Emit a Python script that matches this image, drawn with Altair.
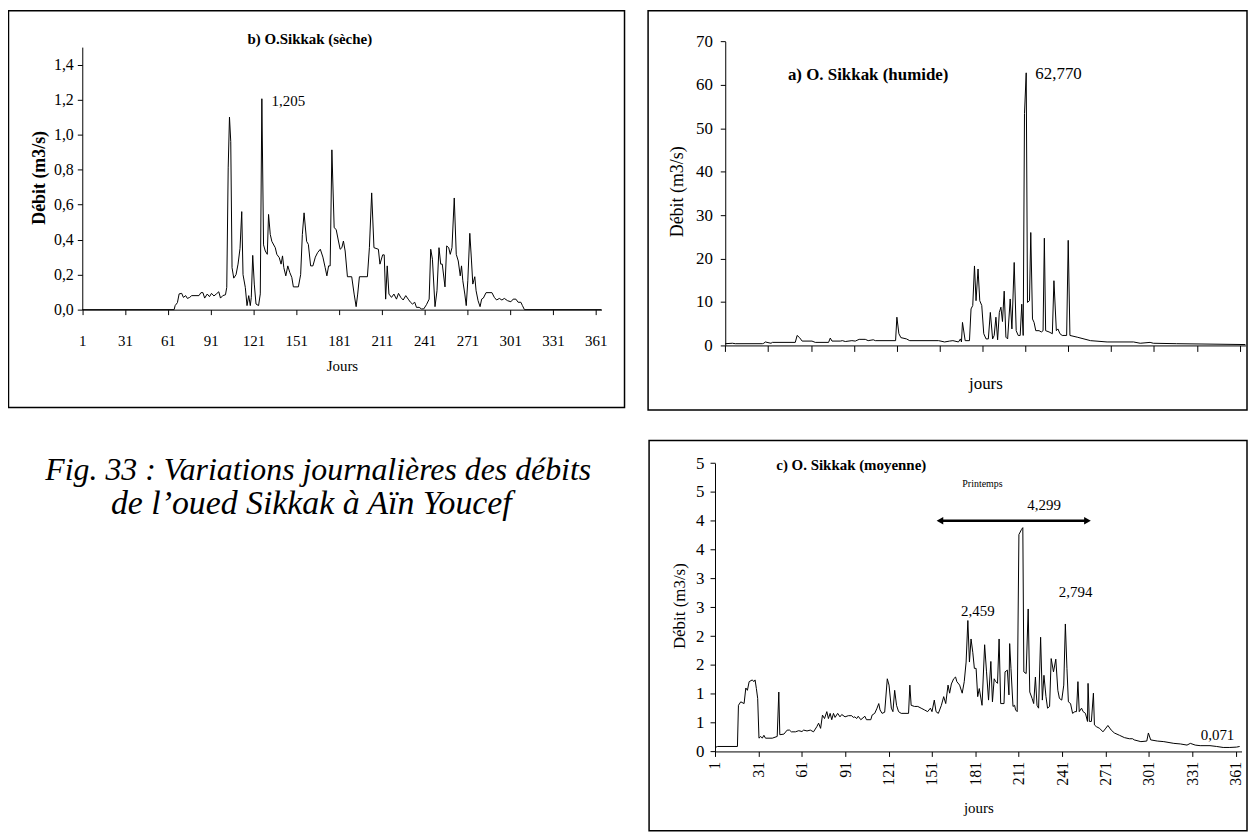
import altair as alt
import pandas as pd

FONT = "Liberation Serif"
W, H = 1247, 827

# ---------------- data ----------------
day_ticks = [1, 31, 61, 91, 121, 151, 181, 211, 241, 271, 301, 331, 361]
dry_ticks = [0, 0.2, 0.4, 0.6, 0.8, 1.0, 1.2, 1.4]
wet_ticks = [0, 10, 20, 30, 40, 50, 60, 70]
avg_ticks = [0, 0.5, 1, 1.5, 2, 2.5, 3, 3.5, 4, 4.5, 5]

# b) dry year : (day, discharge m3/s)
dry = [(1, 0), (65.4, 0), (66.1, 0.023), (67.7, 0.04), (68.9, 0.09), (70.7, 0.093), (71.9, 0.07),
       (73.5, 0.08), (74.7, 0.064), (76.3, 0.07), (77.7, 0.08), (82.8, 0.08), (84.2, 0.097),
       (85.6, 0.097), (86.8, 0.066), (88.6, 0.089), (90.2, 0.074), (91.6, 0.093), (93.3, 0.078),
       (94.9, 0.089), (96.7, 0.102), (97.9, 0.066), (99.5, 0.08), (101.4, 0.085), (102.3, 0.127),
       (103.3, 0.81), (104.2, 1.10), (105.1, 0.96), (106.0, 0.24), (107.2, 0.18), (108.8, 0.2),
       (110.2, 0.26), (111.6, 0.35), (112.8, 0.56), (113.7, 0.2), (115.3, 0.127), (116.5, 0.023),
       (117.7, 0.08), (118.8, 0.023), (119.5, 0.07), (120.5, 0.31), (121.6, 0.146), (122.8, 0.032),
       (124.6, 0.023), (125.8, 0.09), (126.9, 1.205), (128.1, 0.37), (129.3, 0.335), (130.7, 0.316),
       (131.6, 0.544), (132.8, 0.43), (133.9, 0.39), (136.3, 0.354), (137.4, 0.316), (139.1, 0.297),
       (140.4, 0.26), (141.4, 0.307), (142.3, 0.24), (143.7, 0.193), (145.1, 0.25), (146.5, 0.212),
       (147.9, 0.184), (149.0, 0.13), (152.5, 0.13), (154.1, 0.2), (155.3, 0.43), (156.5, 0.553),
       (158.3, 0.39), (159.5, 0.373), (161.1, 0.25), (162.7, 0.25), (164.4, 0.3), (166.0, 0.326),
       (167.9, 0.345), (169.7, 0.3), (171.3, 0.24), (172.5, 0.193), (173.7, 0.25), (174.8, 0.25),
       (176.0, 0.913), (177.6, 0.468), (179.0, 0.458), (180.6, 0.392), (181.8, 0.345), (183.0, 0.354),
       (184.1, 0.392), (185.3, 0.335), (186.9, 0.188), (189.9, 0.188), (191.6, 0.089), (193.0, 0.017),
       (194.1, 0.089), (195.3, 0.188), (200.9, 0.188), (202.3, 0.354), (203.9, 0.667), (205.5, 0.354),
       (208.6, 0.345), (209.7, 0.26), (211.6, 0.313), (212.7, 0.313), (213.7, 0.06), (214.8, 0.25),
       (216.0, 0.089), (217.8, 0.07), (219.5, 0.089), (221.3, 0.06), (222.7, 0.093), (224.3, 0.07),
       (226.0, 0.055), (227.8, 0.08), (229.5, 0.06), (231.1, 0.042), (232.5, 0.032), (234.1, 0.042),
       (235.3, 0.013), (237.2, 0.013), (238.8, 0.004), (240.4, 0.004), (242.3, 0.028), (244.2, 0.06),
       (245.3, 0.345), (246.5, 0.288), (248.3, 0.017), (249.7, 0.108), (251.1, 0.354), (252.3, 0.26),
       (253.4, 0.26), (255.3, 0.13), (256.5, 0.364), (257.9, 0.354), (259.0, 0.316), (260.2, 0.354),
       (261.8, 0.638), (263.2, 0.316), (264.6, 0.278), (266.0, 0.193), (266.9, 0.25), (267.8, 0.165),
       (269.2, 0.089), (270.2, 0.023), (271.3, 0.165), (272.7, 0.436), (273.9, 0.278), (274.8, 0.146),
       (276.2, 0.188), (277.1, 0.108), (278.5, 0.051), (279.9, 0.017), (281.0, 0.06), (282.2, 0.066),
       (284.1, 0.097), (288.2, 0.097), (289.9, 0.07), (291.5, 0.055), (293.4, 0.064), (295.2, 0.055),
       (296.9, 0.064), (299.2, 0.051), (301.5, 0.045), (303.1, 0.06), (305.0, 0.06), (306.6, 0.042),
       (308.5, 0.042), (309.6, 0.023), (311.0, 0), (365, 0)]

# a) wet year
wet = [(1, 0.4), (6, 0.5), (8, 0.4), (27, 0.4), (28, 0.5), (29, 0.8), (33, 0.5), (34, 0.7), (50, 0.7),
       (51.3, 2.3), (53, 1.8), (54.8, 1.0), (61.7, 1.0), (64, 0.7), (73.3, 0.7), (74.5, 1.7), (75.7, 1.0),
       (81.5, 1.0), (83, 1.1), (85, 0.9), (89.6, 1.1), (92, 1.0), (94.7, 1.4), (99, 1.4), (101, 1.1),
       (104.6, 1.3), (106, 1.1), (120.2, 1.1), (121.1, 6.5), (122.5, 2.7), (123.9, 1.8), (127.8, 1.5),
       (130.1, 1.1), (150.3, 1.1), (154.5, 0.8), (158, 1.0), (160.3, 1.1), (164.2, 0.8), (165.6, 1.5),
       (166.3, 0.8), (167, 5.3), (168.9, 1.1), (171.9, 1.1), (173, 8.4), (174.2, 9.2), (175.4, 18.3),
       (176.5, 10.3), (177.9, 17.6), (179.1, 10.3), (180.5, 9.2), (181.9, 2.7), (183.5, 1.5), (185.1, 1.5),
       (186.5, 7.6), (188.1, 1.5), (189.2, 2.3), (190.4, 6.5), (191.6, 1.3), (192.8, 7.6), (193.9, 8.8),
       (195, 5.5), (196.2, 12.5), (197.4, 1.9), (198.6, 1.5), (200.4, 10.7), (201.6, 3.8), (203.2, 19.1),
       (204.6, 3.4), (206, 2.3), (207.4, 2.3), (208.5, 9.5), (209.5, 2.3), (210.4, 53.4), (211.6, 62.77),
       (212.5, 9.9), (213.9, 10.3), (214.8, 26), (216, 6.1), (217.1, 5.3), (218.3, 3.4), (220.6, 3.4),
       (222.2, 3.1), (223.4, 3.4), (224.3, 24.7), (225.2, 3.4), (227.6, 3.1), (229.9, 2.7), (231, 14.9),
       (232.7, 3.4), (233.8, 3.8), (235.2, 2.7), (236.8, 2.3), (239.9, 2.3), (241, 24.2), (242.2, 2.3),
       (247.3, 1.9), (256.6, 1.1), (268.2, 0.8), (286.7, 0.8), (291.4, 0.5), (298.3, 0.7), (300.6, 0.5),
       (316.9, 0.4), (365, 0.2)]

# c) average year
avg = [(1, 0.069), (2.8, 0.086), (16.5, 0.086), (17.2, 0.80), (18.8, 0.86), (21.1, 0.83), (22.3, 1.10),
       (23.4, 1.06), (24.6, 1.21), (26.8, 1.24), (27.8, 1.21), (28.7, 1.24), (29.6, 1.09), (30.5, 0.92),
       (31.4, 0.23), (32.6, 0.26), (33.7, 0.23), (34.8, 0.28), (35.9, 0.23), (40.6, 0.23), (44.0, 0.26),
       (45.1, 1.03), (45.8, 0.29), (48.6, 0.30), (50.9, 0.37), (52.5, 0.37), (53.8, 0.34), (56.6, 0.34),
       (58.9, 0.36), (61.1, 0.345), (62.3, 0.37), (64.6, 0.355), (66.9, 0.37), (69.1, 0.34), (71.4, 0.43),
       (72.6, 0.49), (74.0, 0.40), (75.3, 0.63), (76.7, 0.57), (78.3, 0.69), (79.4, 0.57), (80.6, 0.66),
       (81.7, 0.55), (82.9, 0.66), (84.0, 0.59), (85.8, 0.66), (87.4, 0.60), (88.6, 0.64), (90.9, 0.60),
       (93.2, 0.62), (95.5, 0.62), (96.6, 0.59), (97.7, 0.60), (98.9, 0.57), (100.0, 0.61), (101.8, 0.55),
       (104.6, 0.61), (105.7, 0.55), (108.7, 0.55), (109.6, 0.63), (111.4, 0.66), (113.0, 0.75),
       (114.2, 0.83), (115.1, 0.72), (116.5, 0.66), (118.3, 0.68), (120.1, 1.26), (121.3, 1.15),
       (122.9, 0.75), (124.0, 0.69), (125.2, 1.06), (126.5, 0.80), (127.9, 0.69), (129.7, 0.66),
       (134.8, 0.66), (135.7, 1.15), (136.6, 0.80), (138.9, 0.78), (141.2, 0.78), (143.5, 0.75),
       (145.8, 0.72), (148.0, 0.69), (149.9, 0.75), (151.0, 0.69), (152.6, 0.89), (153.8, 0.69),
       (155.4, 0.66), (157.5, 0.80), (159.1, 0.95), (160.5, 0.83), (162.1, 1.15), (163.2, 1.01),
       (164.4, 1.17), (166.0, 1.26), (167.3, 1.29), (168.2, 1.21), (170.1, 1.15), (171.9, 1.01),
       (173.3, 1.21), (174.6, 1.55), (175.8, 2.27), (176.9, 1.55), (178.0, 1.95), (179.2, 1.72),
       (180.3, 1.44), (181.5, 1.44), (182.6, 0.95), (183.7, 1.09), (185.6, 0.80), (187.4, 1.85),
       (188.7, 1.38), (190.1, 0.89), (191.7, 1.56), (192.8, 0.86), (194.0, 1.26), (195.1, 1.21),
       (196.3, 1.18), (197.4, 1.95), (198.5, 0.83), (200.8, 0.83), (201.5, 1.38), (203.1, 1.41),
       (204.2, 0.98), (204.7, 1.87), (205.6, 1.44), (207.0, 0.78), (208.1, 0.80), (208.8, 0.72),
       (209.9, 0.69), (211.1, 3.76), (212.9, 3.85), (213.8, 3.88), (214.5, 1.38), (216.1, 1.35),
       (217.5, 2.47), (218.6, 1.03), (220.2, 0.92), (221.3, 0.83), (222.5, 1.29), (223.6, 0.80),
       (224.7, 0.75), (226.1, 1.98), (227.3, 0.89), (228.4, 1.32), (229.8, 0.95), (230.9, 0.75),
       (232.3, 0.78), (233.4, 1.61), (235.0, 1.38), (236.6, 1.60), (238.0, 1.06), (239.1, 0.92),
       (240.7, 0.89), (242.1, 1.15), (243.2, 2.21), (244.3, 1.44), (245.3, 0.86), (246.8, 0.83),
       (248.2, 0.66), (249.8, 0.69), (250.9, 0.69), (251.9, 1.21), (252.8, 0.69), (254.4, 0.75),
       (255.5, 0.69), (257.1, 0.66), (258.5, 0.52), (258.9, 1.18), (259.8, 0.52), (261.2, 0.52),
       (262.6, 1.01), (263.3, 0.46), (264.6, 0.43), (266.9, 0.40), (269.2, 0.34), (270.8, 0.39),
       (272.6, 0.45), (274.9, 0.37), (277.1, 0.32), (280.6, 0.28), (284.0, 0.24), (287.4, 0.22),
       (289.7, 0.22), (290.8, 0.20), (295.4, 0.17), (299.5, 0.18), (300.6, 0.32), (302.2, 0.20),
       (306.8, 0.18), (311.3, 0.17), (318.2, 0.14), (322.7, 0.13), (327.3, 0.11), (329.6, 0.14),
       (333.0, 0.11), (336.4, 0.10), (343.2, 0.10), (347.8, 0.086), (352.3, 0.069), (356.9, 0.069),
       (361.5, 0.075), (363.7, 0.086)]

# annotations : (day, value, text)
dry_notes = [(160.5, 1.548, "b) O.Sikkak (sèche)")]
dry_peak = [(133.7, 1.19, "1,205")]
wet_notes = [(101, 62.35, "a) O. Sikkak (humide)")]
wet_peak = [(218, 62.6, "62,770")]
avg_title = [(95.2, 4.97, "c) O. Sikkak (moyenne)")]
avg_small = [(185.9, 4.64, "Printemps")]
avg_peaks = [(228.5, 4.28, "4,299"), (182.7, 2.44, "2,459"), (250.3, 2.76, "2,794"), (348.4, 0.286, "0,071")]
spring = [(156.5, 258.5, 4.0)]
caption = ["Fig. 33 : Variations journalières des débits", "de l\u2019oued Sikkak à Aïn Youcef"]


def pts(pairs):
    return pd.DataFrame({"day": [p[0] for p in pairs], "v": [p[1] for p in pairs]})


def notes(rows):
    return pd.DataFrame({"day": [r[0] for r in rows], "v": [r[1] for r in rows], "t": [r[2] for r in rows]})


def axis(**kw):
    base = dict(domainColor="black", tickColor="black", labelColor="black", titleColor="black",
                labelFont=FONT, titleFont=FONT, grid=False, labelOverlap=False, labelFlush=False,
                domainWidth=1, tickWidth=1, titleFontWeight="normal")
    base.update(kw)
    return alt.Axis(**base)


def sc(domain, rng):
    return alt.Scale(domain=domain, range=rng, nice=False, zero=False)


def text_layer(rows, xs, ys, **mk):
    return alt.Chart(notes(rows)).mark_text(font=FONT, color="black", **mk).encode(
        x=alt.X("day:Q", scale=xs, axis=None),
        y=alt.Y("v:Q", scale=ys, axis=None),
        text="t:N")


# ---------------- panel b (dry) ----------------
xb = sc([1, 365], [74.7, 596.8])
yb = sc([0, 1.5], [301, 37])
line_b = alt.Chart(pts(dry)).mark_line(color="black", strokeWidth=1).encode(
    x=alt.X("day:Q", scale=xb, axis=axis(
        orient="bottom", offset=301 - H, values=day_ticks, format="d", labelFontSize=15,
        tickSize=5, labelPadding=26, labelBaseline="middle", title="Jours", titleFontSize=15,
        titleX=335.8, titleY=56, titleBaseline="middle", titleAlign="center")),
    y=alt.Y("v:Q", scale=yb, axis=axis(
        orient="left", offset=-74.7, values=dry_ticks,
        labelExpr="replace(format(datum.value, '.1f'), '.', ',')", labelFontSize=16,
        tickSize=5, labelPadding=4, title="Débit (m3/s)", titleFontSize=18, titleFontWeight="bold",
        titleX=-43.4, titleY=168, titleAngle=270, titleBaseline="middle", titleAlign="center")))
layers_b = [
    line_b,
    text_layer(dry_notes, xb, yb, fontSize=15, fontWeight="bold", align="center", baseline="middle"),
    text_layer(dry_peak, xb, yb, fontSize=15, align="left", baseline="middle")]

# ---------------- panel a (wet) ----------------
xa = sc([1, 365], [721.3, 1244.4])
ya = sc([0, 70], [337, 31.3])
line_a = alt.Chart(pts(wet)).mark_line(color="black", strokeWidth=1).encode(
    x=alt.X("day:Q", scale=xa, axis=axis(
        orient="bottom", offset=337 - H, values=day_ticks, labels=False, tickSize=6,
        title="jours", titleFontSize=17, titleX=982.9, titleY=38, titleBaseline="middle",
        titleAlign="center")),
    y=alt.Y("v:Q", scale=ya, axis=axis(
        orient="left", offset=-721.3, values=wet_ticks, format="d", labelFontSize=17,
        tickSize=5, labelPadding=8, title="Débit (m3/s)", titleFontSize=18,
        titleX=-47.6, titleY=182, titleAngle=270, titleBaseline="middle", titleAlign="center")))
layers_a = [
    line_a,
    text_layer(wet_notes, xa, ya, fontSize=17, fontWeight="bold", align="center", baseline="middle"),
    text_layer(wet_peak, xa, ya, fontSize=17, align="left", baseline="middle")]

# ---------------- panel c (average) ----------------
xc = sc([1, 365], [711, 1240.5])
yc = sc([0, 5], [745.3, 455.3])
line_c = alt.Chart(pts(avg)).mark_line(color="black", strokeWidth=1).encode(
    x=alt.X("day:Q", scale=xc, axis=axis(
        orient="bottom", offset=745.3 - H, values=day_ticks, format="d", labelAngle=270,
        labelFontSize=16, tickSize=5, labelPadding=5, title="jours", titleFontSize=15,
        titleX=975.8, titleY=56.7, titleBaseline="middle", titleAlign="center")),
    y=alt.Y("v:Q", scale=yc, axis=axis(
        orient="left", offset=-711, values=avg_ticks, labelExpr="'' + round(datum.value)",
        labelFontSize=17, tickSize=5, labelPadding=6, title="Débit (m3/s)", titleFontSize=17,
        titleX=-35.7, titleY=598.7, titleAngle=270, titleBaseline="middle", titleAlign="center")))
spring_df = pd.DataFrame({"d0": [s[0] for s in spring], "d1": [s[1] for s in spring], "v": [s[2] for s in spring]})
arrow_line = alt.Chart(spring_df).mark_rule(color="black", strokeWidth=2.5).encode(
    x=alt.X("d0:Q", scale=xc, axis=None), x2="d1:Q", y=alt.Y("v:Q", scale=yc, axis=None))
head_l = alt.Chart(spring_df).mark_point(shape="triangle-left", filled=True, color="black", size=60, opacity=1).encode(
    x=alt.X("d0:Q", scale=xc, axis=None), y=alt.Y("v:Q", scale=yc, axis=None))
head_r = alt.Chart(spring_df).mark_point(shape="triangle-right", filled=True, color="black", size=60, opacity=1).encode(
    x=alt.X("d1:Q", scale=xc, axis=None), y=alt.Y("v:Q", scale=yc, axis=None))
layers_c = [
    line_c, arrow_line, head_l, head_r,
    text_layer(avg_title, xc, yc, fontSize=15, fontWeight="bold", align="center", baseline="middle"),
    text_layer(avg_small, xc, yc, fontSize=10, align="center", baseline="middle"),
    text_layer(avg_peaks, xc, yc, fontSize=15, align="center", baseline="middle")]

# ---------------- frames and caption ----------------
frames = pd.DataFrame({"x0": [0.5, 643.7, 644.7], "x1": [620, 1246, 1246],
                       "y0": [0.5, 0.5, 432.7], "y1": [399.3, 402, 825]})
frame_layers = [
    alt.Chart(frames.iloc[[i]]).mark_rect(fillOpacity=0, stroke="black", strokeWidth=1.5).encode(
        x=alt.value(float(frames.x0[i])), x2=alt.value(float(frames.x1[i])),
        y=alt.value(float(frames.y0[i])), y2=alt.value(float(frames.y1[i])))
    for i in range(len(frames))]
cap_pos = [(312, 462), (305, 497)]
cap_size = [32, 34]
cap_layers = [
    alt.Chart(pd.DataFrame({"t": [caption[i]]})).mark_text(
        font=FONT, fontSize=cap_size[i], fontStyle="italic", color="black", align="center", baseline="middle").encode(
        x=alt.value(cap_pos[i][0]), y=alt.value(cap_pos[i][1]), text="t:N")
    for i in range(len(caption))]

chart = alt.layer(*layers_b, *layers_a, *layers_c, *frame_layers, *cap_layers).resolve_scale(
    x="independent", y="independent").resolve_axis(
    x="independent", y="independent").properties(
    width=W, height=H, autosize="none", padding=0, background="white").configure(
    font=FONT).configure_axis(labelFont=FONT, titleFont=FONT).configure_view(stroke=None)

chart.save("out.html", embed_options={"renderer": "svg", "actions": False})
